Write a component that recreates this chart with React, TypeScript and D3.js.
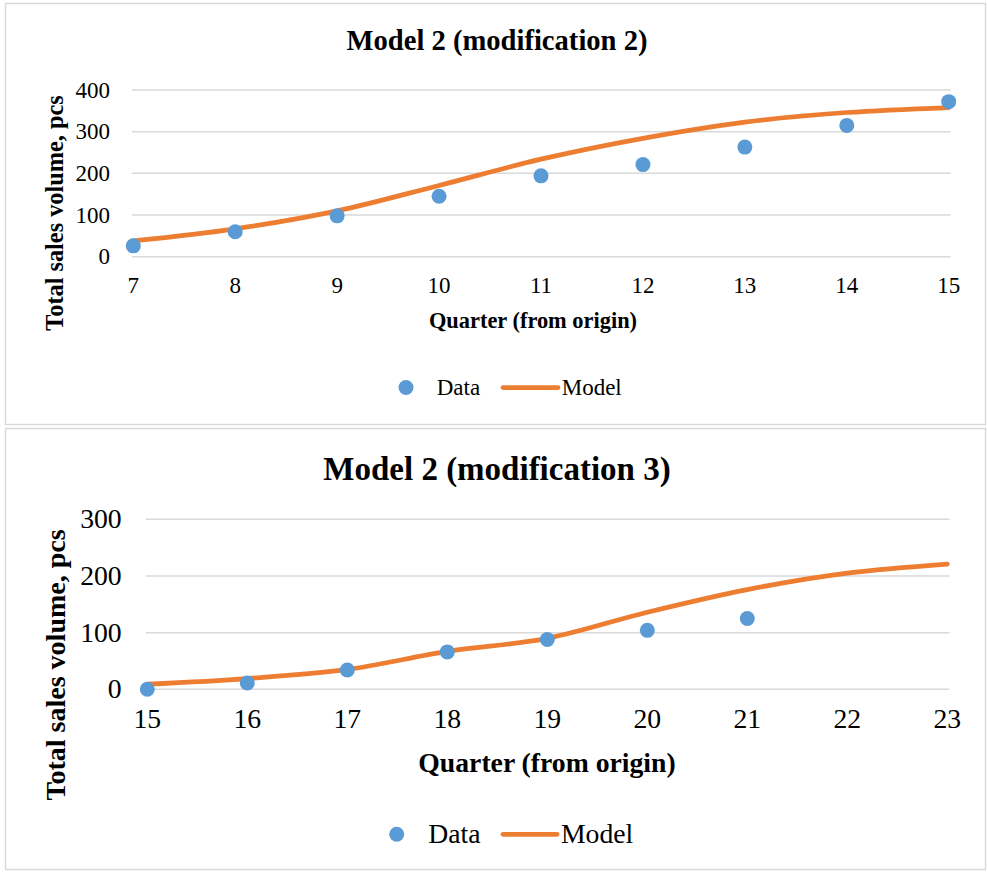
import React from "react";
import * as d3 from "d3";

// ---- Data ----
const quartersTop = [7, 8, 9, 10, 11, 12, 13, 14, 15];
const dataTop = [26, 60, 98, 145, 194, 221, 263, 315, 372];
const modelTop = [38, 67, 110, 171, 234, 284, 323, 346, 358];
const yTicksTop = [0, 100, 200, 300, 400];

const quartersBottom = [15, 16, 17, 18, 19, 20, 21, 22, 23];
const dataQuartersBottom = [15, 16, 17, 18, 19, 20, 21];
const dataBottom = [0, 11, 34, 66, 88, 104, 125];
const modelBottom = [9, 19, 35, 67, 90, 136, 176, 205, 221];
const yTicksBottom = [0, 100, 200, 300];

const titleTop = "Model 2 (modification 2)";
const titleBottom = "Model 2 (modification 3)";
const xTitle = "Quarter (from origin)";
const yTitle = "Total sales volume, pcs";
const legendLabels = ["Data", "Model"];

const BLUE = "#5B9BD5";
const ORANGE = "#ED7D31";
const GRID = "#d9d9d9";
const FONT = "'Liberation Serif', 'Times New Roman', serif";

type ChartProps = {
  frame: { x: number; y: number; w: number; h: number };
  xs: number[];
  dataX: number[];
  dataY: number[];
  modelY: number[];
  yTicks: number[];
  xRange: [number, number];
  yRange: [number, number];
  title: string;
  titleY: number;
  titleSize: number;
  fs: number;
  xTitleFs: number;
  yTitleFs: number;
  tickRight: number;
  tickLabelY: number;
  xTitleX: number;
  xTitleY: number;
  yTitleX: number;
  yTitleY: number;
  legendY: number;
  legend: { dot: number; data: number; l1: number; l2: number; model: number };
  r: number;
};

function Chart(p: ChartProps) {
  const x = d3
    .scaleLinear()
    .domain([p.xs[0], p.xs[p.xs.length - 1]])
    .range(p.xRange);
  const y = d3
    .scaleLinear()
    .domain([0, p.yTicks[p.yTicks.length - 1]])
    .range(p.yRange);
  const line = d3
    .line<number>()
    .x((_, i) => x(p.xs[i]))
    .y((d) => y(d))
    .curve(d3.curveCatmullRom.alpha(0.5));
  return (
    <g>
      <rect
        x={p.frame.x}
        y={p.frame.y}
        width={p.frame.w}
        height={p.frame.h}
        fill="#fff"
        stroke={GRID}
        strokeWidth={1.5}
      />
      <text
        x={497}
        y={p.titleY}
        textAnchor="middle"
        fontFamily={FONT}
        fontWeight="bold"
        fontSize={p.titleSize}
      >
        {p.title}
      </text>
      {p.yTicks.map((t) => (
        <g key={t}>
          <line
            x1={p.xRange[0] - 1.5}
            x2={p.xRange[1] + 2}
            y1={y(t)}
            y2={y(t)}
            stroke={GRID}
            strokeWidth={1.5}
          />
          <text
            x={p.tickRight}
            y={y(t)}
            dy="0.33em"
            textAnchor="end"
            fontFamily={FONT}
            fontSize={p.fs}
          >
            {t}
          </text>
        </g>
      ))}
      {p.xs.map((q) => (
        <text
          key={q}
          x={x(q)}
          y={p.tickLabelY}
          dy="0.33em"
          textAnchor="middle"
          fontFamily={FONT}
          fontSize={p.fs}
        >
          {q}
        </text>
      ))}
      <path
        d={line(p.modelY) || ""}
        fill="none"
        stroke={ORANGE}
        strokeWidth={4.75}
        strokeLinecap="round"
      />
      {p.dataY.map((v, i) => (
        <circle key={i} cx={x(p.dataX[i])} cy={y(v)} r={p.r} fill={BLUE} />
      ))}
      <text
        x={p.xTitleX}
        y={p.xTitleY}
        textAnchor="middle"
        fontFamily={FONT}
        fontWeight="bold"
        fontSize={p.xTitleFs}
      >
        {xTitle}
      </text>
      <text
        transform={`translate(${p.yTitleX},${p.yTitleY}) rotate(-90)`}
        textAnchor="middle"
        fontFamily={FONT}
        fontWeight="bold"
        fontSize={p.yTitleFs}
      >
        {yTitle}
      </text>
      <circle cx={p.legend.dot} cy={p.legendY} r={p.r} fill={BLUE} />
      <text
        x={p.legend.data}
        y={p.legendY}
        dy="0.33em"
        fontFamily={FONT}
        fontSize={p.fs}
      >
        {legendLabels[0]}
      </text>
      <line
        x1={p.legend.l1}
        x2={p.legend.l2}
        y1={p.legendY}
        y2={p.legendY}
        stroke={ORANGE}
        strokeWidth={4.75}
        strokeLinecap="round"
      />
      <text
        x={p.legend.model}
        y={p.legendY}
        dy="0.33em"
        fontFamily={FONT}
        fontSize={p.fs}
      >
        {legendLabels[1]}
      </text>
    </g>
  );
}

export default function App() {
  return (
    <svg
      width={987}
      height={873}
      style={{ position: "absolute", left: 0, top: 0, background: "#fff" }}
    >
      <rect x={0} y={0} width={987} height={873} fill="#fff" />
      <Chart
        frame={{ x: 5.5, y: 3.5, w: 980, h: 421 }}
        xs={quartersTop}
        dataX={quartersTop}
        dataY={dataTop}
        modelY={modelTop}
        yTicks={yTicksTop}
        xRange={[133.3, 948.7]}
        yRange={[256.7, 90]}
        title={titleTop}
        titleY={50}
        titleSize={28.6}
        fs={23}
        xTitleFs={22.4}
        yTitleFs={24.3}
        tickRight={110}
        tickLabelY={285.5}
        xTitleX={533}
        xTitleY={328}
        yTitleX={63}
        yTitleY={213}
        legendY={387.5}
        legend={{ dot: 406, data: 436.7, l1: 503, l2: 558, model: 561.7 }}
        r={7.5}
      />
      <Chart
        frame={{ x: 5.5, y: 428.5, w: 980, h: 441 }}
        xs={quartersBottom}
        dataX={dataQuartersBottom}
        dataY={dataBottom}
        modelY={modelBottom}
        yTicks={yTicksBottom}
        xRange={[147.3, 947.3]}
        yRange={[689.3, 519.3]}
        title={titleBottom}
        titleY={480}
        titleSize={33}
        fs={27.7}
        xTitleFs={27.7}
        yTitleFs={28}
        tickRight={121.7}
        tickLabelY={719}
        xTitleX={547}
        xTitleY={772}
        yTitleX={65}
        yTitleY={665}
        legendY={834.3}
        legend={{ dot: 396.7, data: 428.3, l1: 503, l2: 557, model: 561 }}
        r={7.5}
      />
    </svg>
  );
}
